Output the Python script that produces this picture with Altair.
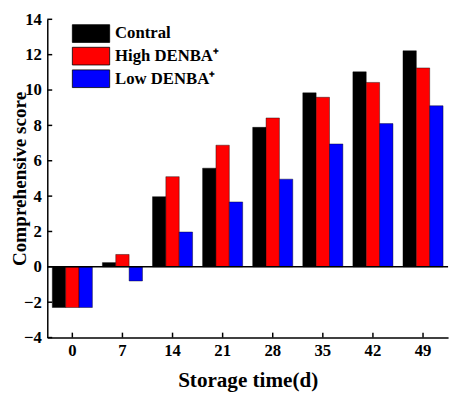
import altair as alt
import pandas as pd

days = [0, 7, 14, 21, 28, 35, 42, 49]
groups = ["Contral", "High DENBA⁺", "Low DENBA⁺"]
contral = [-2.3, 0.24, 3.97, 5.58, 7.89, 9.84, 11.03, 12.22]
high = [-2.3, 0.7, 5.1, 6.88, 8.42, 9.59, 10.43, 11.25]
low = [-2.3, -0.8, 1.97, 3.67, 4.96, 6.95, 8.1, 9.11]
colors = ["#000000", "#ff0000", "#0000ff"]
y_ticks = [-4, -2, 0, 2, 4, 6, 8, 10, 12, 14]

rows = []
for g, vals in zip(groups, [contral, high, low]):
    for d, v in zip(days, vals):
        rows.append({"day": str(d), "group": g, "value": v})
df = pd.DataFrame(rows)
day_order = [str(d) for d in days]

FONT = "Liberation Serif"
W, H = 408, 324

xscale = alt.Scale(domain=day_order, paddingInner=0.2, paddingOuter=0.1)
yscale = alt.Scale(domain=[-4, 14], nice=False, zero=False)

x_axis = alt.Axis(title="Storage time(d)", labelAngle=0, ticks=False,
                  labelPadding=5, titleBaseline="alphabetic", titleY=50, titleX=W / 2,
                  titleFontSize=21.5)
y_axis = alt.Axis(title="Comprehensive score", values=y_ticks, ticks=False,
                  labelPadding=6, labelOverlap=False, grid=False,
                  titleAngle=270, titleBaseline="alphabetic", titleAlign="center",
                  titleX=-22, titleY=H / 2)

bars = alt.Chart(df).mark_bar(stroke="#000000", strokeWidth=0.6, strokeOpacity=0.7).encode(
    x=alt.X("day:N", sort=day_order, scale=xscale, axis=x_axis),
    xOffset=alt.XOffset("group:N", sort=groups, scale=alt.Scale(paddingInner=0, paddingOuter=0)),
    y=alt.Y("value:Q", scale=yscale, axis=y_axis),
    color=alt.Color("group:N", sort=groups,
                    scale=alt.Scale(domain=groups, range=colors),
                    legend=alt.Legend(title=None, orient="none", legendX=35, legendY=5,
                                      symbolType="M-2.11,-1H2.11V1H-2.11Z", symbolSize=324,
                                      symbolStrokeColor="#000000", symbolStrokeWidth=0.8,
                                      symbolOpacity=1, labelFont=FONT, labelFontWeight="bold",
                                      labelFontSize=17, labelColor="#000000", labelOffset=15,
                                      rowPadding=0, labelLimit=300)),
)

zero_line = alt.Chart(pd.DataFrame({"v": [0]})).mark_rule(color="#000000", strokeWidth=1.5).encode(
    y=alt.Y("v:Q", scale=yscale, axis=y_axis)
)

ytick_df = pd.DataFrame({"v": y_ticks})
yticks = alt.Chart(ytick_df).mark_rule(color="#000000", strokeWidth=1.5).encode(
    y=alt.Y("v:Q", scale=yscale, axis=y_axis), x=alt.value(0), x2=alt.value(5)
)

xtick_df = pd.DataFrame({"day": day_order})
xticks = alt.Chart(xtick_df).mark_rule(color="#000000", strokeWidth=1.5).encode(
    x=alt.X("day:N", sort=day_order, scale=xscale, axis=x_axis), y=alt.value(H), y2=alt.value(H - 5)
)

chart = alt.layer(bars, zero_line, yticks, xticks).properties(
    width=W, height=H,
    autosize=alt.AutoSizeParams(type="none"),
    padding={"left": 40, "top": 8, "right": 4, "bottom": 57},
).configure_view(stroke=None).configure_axis(
    domainColor="#000000", domainWidth=1.5, labelOverlap=False,
    labelFont=FONT, labelFontWeight="bold", labelFontSize=17, labelColor="#000000",
    titleFont=FONT, titleFontWeight="bold", titleFontSize=19.5, titleColor="#000000",
)

chart.save("out.html", embed_options={"renderer": "svg", "actions": False})
